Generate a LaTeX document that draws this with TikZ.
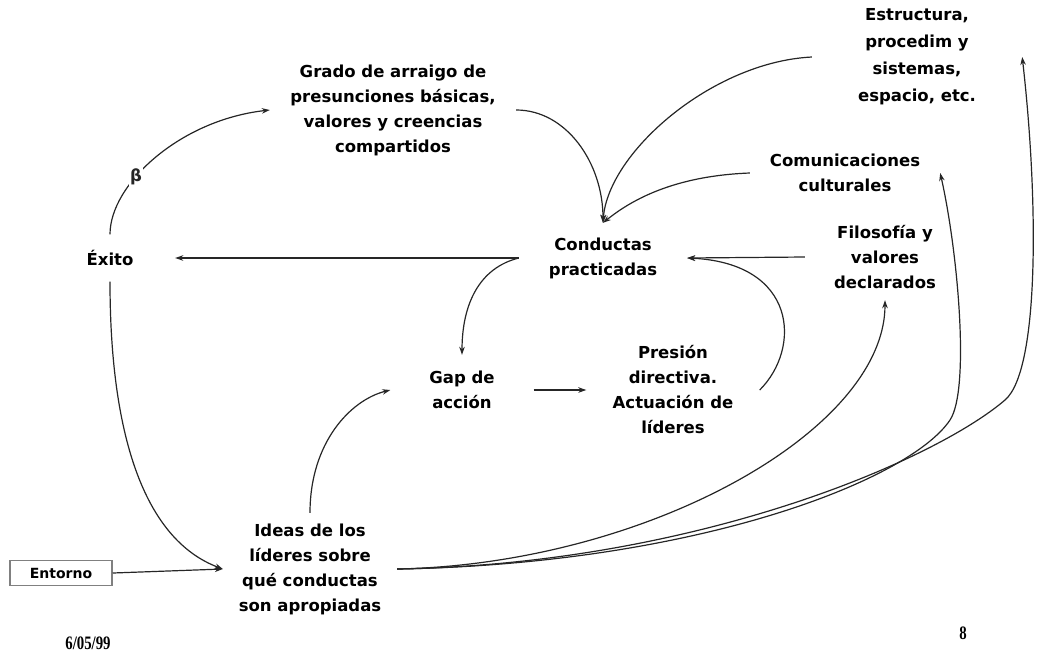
\documentclass[tikz,border=0pt]{standalone}
\usepackage{fontspec}
\setmainfont{DejaVu Sans}
\newfontfamily\datefont[FakeStretch=0.78]{Liberation Serif}
\usetikzlibrary{positioning,arrows.meta}

\begin{document}
\begin{tikzpicture}[x=1pt,y=-1pt,
    lbl/.style={align=center, inner sep=0pt, font=\fontsize{16.5}{25}\selectfont\bfseries},
    flow/.style={-{Stealth[length=8pt,width=5.5pt]}, line width=1.2pt, black!85}]
  \useasboundingbox (0,0) rectangle (1038,657);

  % Labels
  \node[lbl, minimum width=210, font=\fontsize{16.5}{27}\selectfont\bfseries] (estr) at (917,57)
    {Estructura,\\procedim y\\sistemas,\\espacio, etc.};
  \node[lbl, minimum width=246] (grado) at (393,110)
    {Grado de arraigo de\\presunciones básicas,\\valores y creencias\\compartidos};
  \node[lbl, minimum width=190] (comun) at (845,173) {Comunicaciones\\culturales};
  \node[lbl, minimum width=160, minimum height=86] (filo) at (885,257)
    {Filosofía y\\valores\\declarados};
  \node[lbl, minimum width=168, minimum height=70] (cond) at (603,258) {Conductas\\practicadas};
  \node[lbl, minimum width=130, minimum height=47] (exito) at (110,258) {Éxito};
  \node[lbl, minimum width=143, minimum height=70] (gap) at (462,390) {Gap de\\acción};
  \node[lbl, minimum width=173] (pres) at (673,390)
    {Presión\\directiva.\\Actuación de\\líderes};
  \node[lbl, minimum width=174, minimum height=112] (ideas) at (310,569)
    {Ideas de los\\líderes sobre\\qué conductas\\son apropiadas};
  \node[draw=gray, line width=1.5pt, minimum width=102, minimum height=25,
    font=\fontsize{14}{16}\selectfont\bfseries] (ent) at (61,573) {Entorno};

  % Footer
  \node[font=\datefont\fontsize{19}{21}\selectfont\bfseries] (fecha) at (88,643) {6/05/99};
  \node[font=\datefont\fontsize{19}{21}\selectfont\bfseries] (pag) at (963,633) {8};

  % Loop through Exito
  \draw[flow] (exito.north) .. controls +(0,-50) and +(-90,10) .. (grado.west)
    node[pos=0.37, lbl, fill=white, inner sep=1pt] (beta) {β};
  \draw[flow] (exito.south) .. controls +(0,150) and +(-80,-30) .. (ideas.west);
  \draw[flow] (ent.east) -- (ideas.west);
  \draw[flow] (cond.west) -- (exito.east);

  % Into Conductas
  \draw[flow] (grado.east) .. controls +(50,0) and +(0,-60) .. (cond.north);
  \draw[flow] (estr.west) .. controls +(-100,5) and +(5,-70) .. (cond.north);
  \draw[flow] (comun.west) .. controls +(-80,3) and +(25,-20) .. (cond.north);
  \draw[flow] (filo.west) -- (cond.east);
  \draw[flow] (pres.east) .. controls +(42,-42) and +(110,5) .. (cond.east);

  % Action gap
  \draw[flow] (cond.west) .. controls +(-40,10) and +(0,-50) .. (gap.north);
  \draw[flow] (gap.east) -- (pres.west);
  \draw[flow] (ideas.north) .. controls +(0,-70) and +(-40,10) .. (gap.west);

  % From Ideas to the right
  \draw[flow] (ideas.east) .. controls +(250,-5) and +(0,130) .. (filo.south);
  \draw[flow] (ideas.east) .. controls +(300,-5) and +(-40,60) .. (950,420)
    .. controls +(20,-30) and +(18,80) .. (comun.east);
  \draw[flow] (ideas.east) .. controls +(300,-5) and +(-70,60) .. (1005,400)
    .. controls +(35,-30) and +(16,140) .. (estr.east);
\end{tikzpicture}
\end{document}
